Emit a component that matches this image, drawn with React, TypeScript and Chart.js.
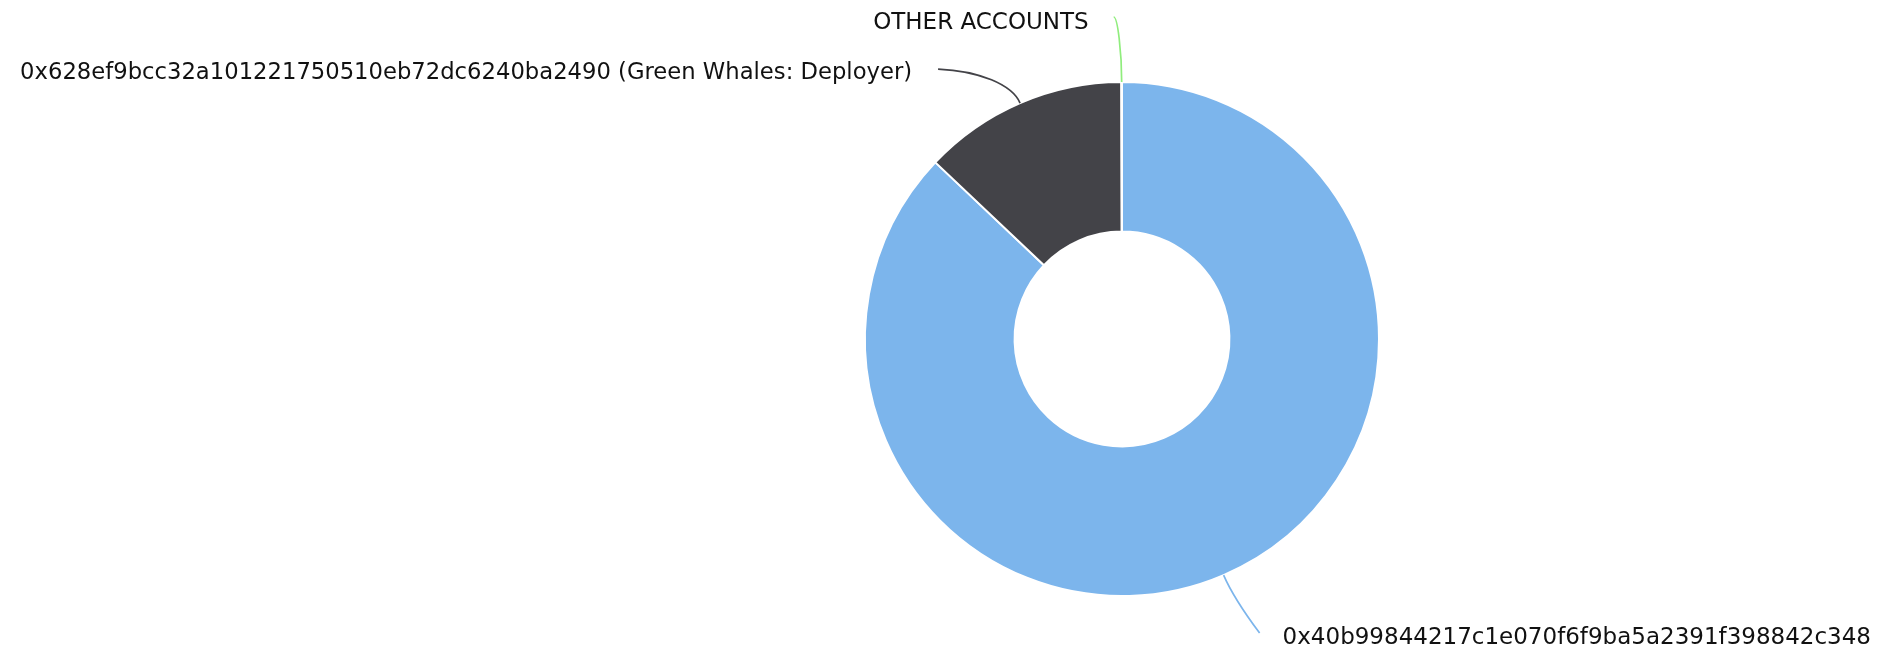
import React, { useEffect, useRef } from "react";
import { Chart, ArcElement, DoughnutController } from "chart.js";

Chart.register(ArcElement, DoughnutController);

// ---- data ----
const accountLabels: string[] = [
  "0x40b99844217c1e070f6f9ba5a2391f398842c348",
  "0x628ef9bcc32a101221750510eb72dc6240ba2490 (Green Whales: Deployer)",
  "OTHER ACCOUNTS",
];
const holdingShares: number[] = [87.06, 12.9, 0.04];
const sliceColors: string[] = ["#7cb5ec", "#434348", "#90ed7d"];

// label placement (connector start relative to the slice edge point)
const labelPlacement = [
  { dx: 36, dy: 58, align: "left" as const, gap: 23, textDy: 5, radialLen: 22, kx: 0.3, ky: 0.25, size: 23 },
  { dx: -82, dy: -34, align: "right" as const, gap: 26, textDy: 4, radialLen: 20, kx: 0.5, ky: 0.05, size: 22.7 },
  { dx: -8, dy: -65, align: "right" as const, gap: 25, textDy: 6, radialLen: 30, kx: 0.5, ky: 0, size: 23 },
];

const pieLabelsPlugin = {
  id: "pieLabels",
  afterDatasetsDraw(chart: any) {
    const ctx: CanvasRenderingContext2D = chart.ctx;
    const meta = chart.getDatasetMeta(0);
    ctx.save();
    meta.data.forEach((arc: any, i: number) => {
      const p = arc.getProps(["x", "y", "startAngle", "endAngle", "outerRadius"], true);
      const mid = (p.startAngle + p.endAngle) / 2;
      const cx = Math.cos(mid);
      const cy = Math.sin(mid);
      const T = { x: p.x + cx * p.outerRadius, y: p.y + cy * p.outerRadius };
      const cfg = labelPlacement[i];
      const L = { x: T.x + cfg.dx, y: T.y + cfg.dy };
      const c1 = { x: L.x + (T.x - L.x) * cfg.kx, y: L.y + (T.y - L.y) * cfg.ky };
      const c2 = { x: T.x + cx * cfg.radialLen, y: T.y + cy * cfg.radialLen };
      ctx.beginPath();
      ctx.moveTo(L.x, L.y);
      ctx.bezierCurveTo(c1.x, c1.y, c2.x, c2.y, T.x, T.y);
      ctx.strokeStyle = sliceColors[i];
      ctx.lineWidth = 1.7;
      ctx.stroke();

      ctx.font = `${cfg.size}px 'DejaVu Sans', sans-serif`;
      ctx.fillStyle = "#111111";
      ctx.textBaseline = "middle";
      ctx.textAlign = cfg.align;
      const tx = cfg.align === "left" ? L.x + cfg.gap : L.x - cfg.gap;
      ctx.fillText(accountLabels[i], tx, L.y + cfg.textDy);
    });
    ctx.restore();
  },
};

export default function App() {
  const canvasRef = useRef<HTMLCanvasElement | null>(null);

  useEffect(() => {
    if (!canvasRef.current) return;
    const chart = new Chart(canvasRef.current, {
      type: "doughnut",
      data: {
        labels: accountLabels,
        datasets: [
          {
            data: holdingShares,
            backgroundColor: sliceColors,
            borderColor: "#ffffff",
            borderWidth: 2,
          },
        ],
      },
      options: {
        animation: false,
        responsive: true,
        maintainAspectRatio: false,
        radius: 257,
        cutout: "41.8%",
        layout: { padding: { left: 865, right: 502, top: 82, bottom: 58 } },
        plugins: { legend: { display: false }, tooltip: { enabled: false } },
        events: [],
      } as any,
      plugins: [pieLabelsPlugin],
    });
    return () => chart.destroy();
  }, []);

  return (
    <div
      style={{
        position: "absolute",
        left: 0,
        top: 0,
        width: 1881,
        height: 654,
        background: "#ffffff",
      }}
    >
      <canvas ref={canvasRef} />
    </div>
  );
}
